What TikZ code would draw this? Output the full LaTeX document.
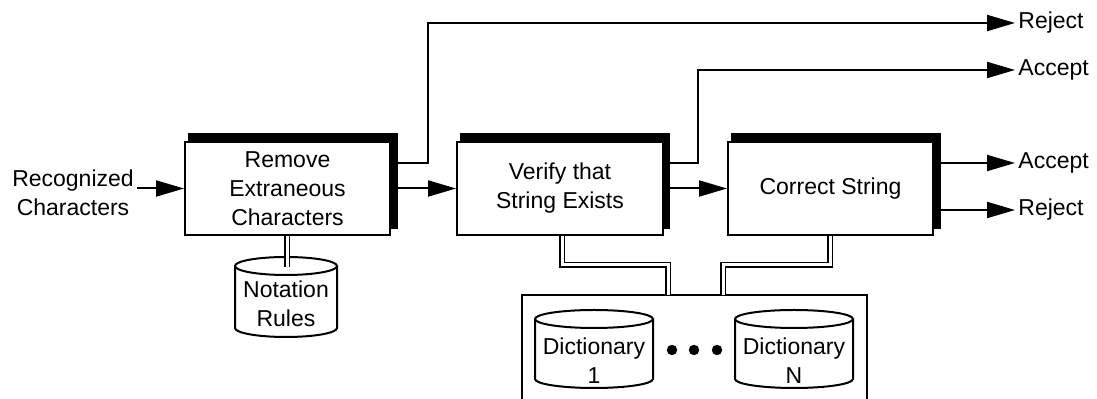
\documentclass[tikz,border=0pt]{standalone}
\usepackage{fontspec}
\setmainfont{Liberation Sans}
\usetikzlibrary{arrows.meta,calc}
\pgfdeclarelayer{back}
\pgfsetlayers{back,main}
\begin{document}
\begin{tikzpicture}[x=0.5pt,y=-0.5pt,
  txt/.style={font=\fontsize{11.5}{14.5}\selectfont, align=center, inner sep=0pt},
  procbox/.style={draw, fill=white, line width=1pt, inner sep=0pt, minimum height=46.5pt,
     font=\fontsize{11.5}{14.5}\selectfont, align=center},
  shadowfill/.style={fill=black},
  arr/.style={line width=1pt, -{Triangle[length=14pt,width=8pt]}},
  ln/.style={line width=1pt},
  dbl/.style={draw, line width=0.7pt, double distance=1.5pt, double=white},
  cyl/.style={draw, fill=white, line width=1pt},
  lbl/.style={font=\fontsize{11.5}{14}\selectfont, inner sep=1.5pt, anchor=west},
  dot/.style={circle, fill=black, inner sep=0pt, minimum size=5.2pt}]
\useasboundingbox (0,0) rectangle (1097,399);

% process boxes
\node[procbox, minimum width=102.5pt] (b1) at (287.5,188.5) {Remove\\Extraneous\\Characters};
\node[procbox, minimum width=103pt] (b2) at (560,188.5) {Verify that\\String Exists};
\node[procbox, minimum width=102.5pt] (b3) at (830.5,188.5) {Correct String};

% shadows behind the boxes
\begin{pgfonlayer}{back}
\fill[shadowfill] ($(b1.north west)+(4,-8)$) rectangle ($(b1.south east)+(7,-7)$);
\fill[shadowfill] ($(b2.north west)+(4,-8)$) rectangle ($(b2.south east)+(6,-7)$);
\fill[shadowfill] ($(b3.north west)+(4,-8)$) rectangle ($(b3.south east)+(7,-7)$);
\end{pgfonlayer}

% input text
\node[txt] (rec) at (73,193) {Recognized\\Characters};

% output labels
\node[lbl] (rej1) at (1015,23) {Reject};
\node[lbl] (acc1) at (1015,70) {Accept};
\node[lbl] (acc2) at (1015,163) {Accept};
\node[lbl] (rej2) at (1015,210) {Reject};

% connectors
\draw[arr] (rec.east |- b1.west) ++(3,0) -- (b1.west);
\draw[arr] ([xshift=3.5pt]b1.east) -- (b2.west);
\draw[arr] ([xshift=3pt]b2.east) -- (b3.west);
\draw[arr] (b1.east |- 0,163) -- (428,163) -- (428,23) -- (rej1.west);
\draw[arr] (b2.east |- 0,163) -- (698,163) -- (698,70) -- (acc1.west);
\draw[arr] (b3.east |- acc2.west) -- (acc2.west);
\draw[arr] (b3.east |- rej2.west) -- (rej2.west);

% notation rules cylinder
\draw[cyl] (235,266) -- (235,328) arc[start angle=180,end angle=360,x radius=25.5pt,y radius=4.5pt] -- (337,266);
\draw[cyl] (286,266) ellipse [x radius=25.5pt, y radius=4.5pt];
\node[txt] (nr) at (286,304) {Notation\\Rules};
\draw[dbl] (b1.south -| 287,0) -- (287,267);

% dictionary box
\node[minimum width=172.5pt, minimum height=55pt, inner sep=0pt] (dict) at (694.5,350) {};
\draw[ln] (dict.south west) |- (dict.north east) -- (dict.south east);

% dictionary cylinders
\draw[cyl] (535,319) -- (535,379) arc[start angle=180,end angle=360,x radius=29.5pt,y radius=4.5pt] -- (653,319);
\draw[cyl] (594,319) ellipse [x radius=29.5pt, y radius=4.5pt];
\node[txt] (dict1) at (594,361) {Dictionary\\1};
\draw[cyl] (735,319) -- (735,379) arc[start angle=180,end angle=360,x radius=29.5pt,y radius=4.5pt] -- (853,319);
\draw[cyl] (794,319) ellipse [x radius=29.5pt, y radius=4.5pt];
\node[txt] (dictN) at (794,361) {Dictionary\\N};

\node[dot] (d1) at (672,350) {};
\node[dot] (d2) at (694,350) {};
\node[dot] (d3) at (717,350) {};

% double links
\draw[dbl] (b2.south -| 562,0) |- (668,265) -- (dict.north -| 668,0);
\draw[dbl] (b3.south -| 830,0) |- (723,265) -- (dict.north -| 723,0);
\end{tikzpicture}
\end{document}
